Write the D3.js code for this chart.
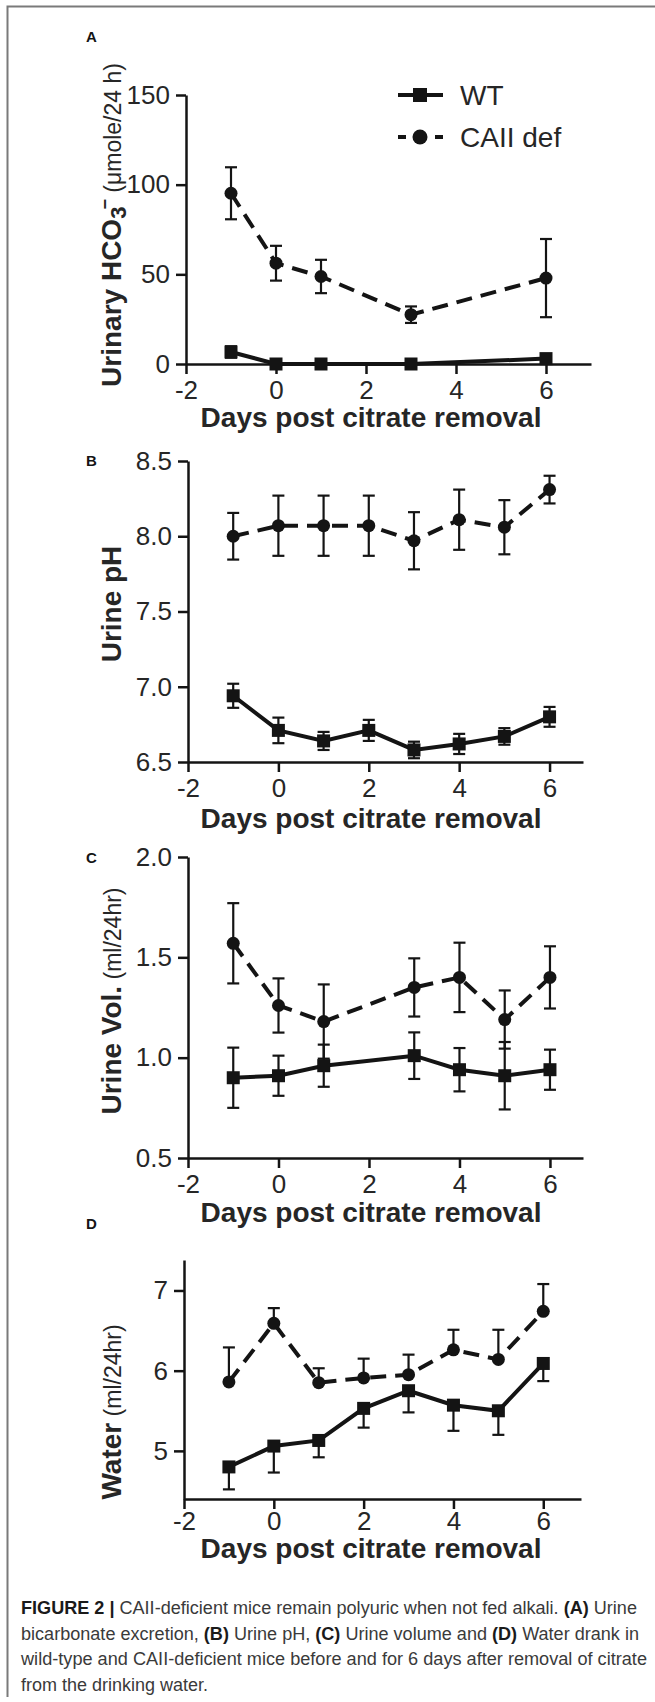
<!DOCTYPE html>
<html>
<head>
<meta charset="utf-8">
<script src="https://cdn.jsdelivr.net/npm/d3@7"></script>
<style>
  body { margin: 0; background: #fff; }
  svg text { font-family: "Liberation Sans", Arial, Helvetica, sans-serif; }
</style>
</head>
<body>
<div id="fig"></div>
<script>
// x ticks shared by all panels
const dayTicks = [-2, 0, 2, 4, 6];

// A - urinary bicarbonate (umole/24 h)
const hco3Days = [-1, 0, 1, 3, 6];
const hco3Ticks = [0, 50, 100, 150];
const hco3WT = [6.7, 0, 0, 0, 3.0];
const hco3WTErr = [3.2, 0.5, 0.5, 0.5, 1.5];
const hco3CA = [95.2, 56.2, 48.8, 27.5, 47.9];
const hco3CAErr = [14.5, 9.7, 9.3, 4.6, 21.8];

// B - urine pH
const phDays = [-1, 0, 1, 2, 3, 4, 5, 6];
const phTicks = [6.5, 7.0, 7.5, 8.0, 8.5];
const phWT = [6.94, 6.71, 6.64, 6.71, 6.58, 6.62, 6.67, 6.80];
const phWTErr = [0.08, 0.085, 0.06, 0.07, 0.055, 0.067, 0.055, 0.066];
const phCA = [8.00, 8.07, 8.07, 8.07, 7.97, 8.11, 8.06, 8.31];
const phCAErr = [0.155, 0.2, 0.2, 0.2, 0.19, 0.2, 0.18, 0.092];

// C - urine volume (ml/24hr)
const volDays = [-1, 0, 1, 3, 4, 5, 6];
const volTicks = [0.5, 1.0, 1.5, 2.0];
const volWT = [0.90, 0.91, 0.96, 1.01, 0.94, 0.91, 0.94];
const volWTErr = [0.15, 0.10, 0.105, 0.116, 0.108, 0.168, 0.10];
const volCA = [1.57, 1.26, 1.18, 1.35, 1.40, 1.19, 1.40];
const volCAErr = [0.20, 0.135, 0.185, 0.145, 0.173, 0.145, 0.155];

// D - water drank (ml/24hr), one sided bars
const waterDays = [-1, 0, 1, 2, 3, 4, 5, 6];
const waterTicks = [5, 6, 7];
const waterWT = [4.80, 5.06, 5.13, 5.53, 5.75, 5.57, 5.50, 6.09];
const waterWTErr = [0.28, 0.33, 0.21, 0.24, 0.27, 0.32, 0.30, 0.22];
const waterCA = [5.86, 6.59, 5.85, 5.91, 5.95, 6.26, 6.14, 6.74];
const waterCAErr = [0.43, 0.19, 0.18, 0.24, 0.25, 0.25, 0.37, 0.34];

const seriesNames = ["WT", "CAII def"];
const xTitle = "Days post citrate removal";

const captionLines = [
  [["FIGURE 2 |", true], [" CAII-deficient mice remain polyuric when not fed alkali. ", false], ["(A)", true], [" Urine", false]],
  [["bicarbonate excretion, ", false], ["(B)", true], [" Urine pH, ", false], ["(C)", true], [" Urine volume and ", false], ["(D)", true], [" Water drank in", false]],
  [["wild-type and CAII-deficient mice before and for 6 days after removal of citrate", false]],
  [["from the drinking water.", false]]
];

let svgWidth = 655;
let svgHeight = 1702;
let ink = "#141414";
let textCol = "#262626";

let svg = d3.select("#fig").append("svg")
  .attr("width", svgWidth)
  .attr("height", svgHeight);

// gray frame (top + left)
svg.append("path")
  .attr("d", "M7.5,1697 V6.5 H655")
  .attr("fill", "none")
  .attr("stroke", "#7a7a7a")
  .attr("stroke-width", 2);

let panels = [
  {
    letter: "A", letterY: 42, x0: 186, x1: 591, xMax: 7,
    yBottom: 364, yTop: 95, yDomain: [0, 150], yTicks: hco3Ticks, fmt: d3.format("d"),
    days: hco3Days, wt: hco3WT, wtErr: hco3WTErr, ca: hco3CA, caErr: hco3CAErr, oneSided: false,
    tickPad: 6.5, titleY: 427, labelY: 225,
    yTitle: [
      { t: "Urinary HCO", b: true, s: 28 },
      { t: "3", b: true, s: 22, dy: 5 },
      { t: "\u2212", b: true, s: 18, dy: -15, dx: -3 },
      { t: " (\u03bcmole/24 h)", b: false, s: 23, dy: 10 }
    ]
  },
  {
    letter: "B", letterY: 466, x0: 188, x1: 583, xMax: 6.74,
    yBottom: 762, yTop: 461, yDomain: [6.5, 8.5], yTicks: phTicks, fmt: d3.format(".1f"),
    days: phDays, wt: phWT, wtErr: phWTErr, ca: phCA, caErr: phCAErr, oneSided: false,
    tickPad: 6.5, titleY: 828, labelY: 604,
    yTitle: [{ t: "Urine pH", b: true, s: 28 }]
  },
  {
    letter: "C", letterY: 863, x0: 188, x1: 583, xMax: 6.73,
    yBottom: 1158, yTop: 857, yDomain: [0.5, 2.0], yTicks: volTicks, fmt: d3.format(".1f"),
    days: volDays, wt: volWT, wtErr: volWTErr, ca: volCA, caErr: volCAErr, oneSided: false,
    tickPad: 6.5, titleY: 1222, labelY: 1001,
    yTitle: [{ t: "Urine Vol.", b: true, s: 28 }, { t: " (ml/24hr)", b: false, s: 23 }]
  },
  {
    letter: "D", letterY: 1229, x0: 184, x1: 581, xMax: 6.84,
    yBottom: 1499, yTop: 1260, yDomain: [4.4, 7.38], yTicks: waterTicks, fmt: d3.format("d"),
    days: waterDays, wt: waterWT, wtErr: waterWTErr, ca: waterCA, caErr: waterCAErr, oneSided: true,
    tickPad: 2.5, titleY: 1558, labelY: 1412,
    yTitle: [{ t: "Water", b: true, s: 28 }, { t: " (ml/24hr)", b: false, s: 23 }]
  }
];

let drawPanel = (p) => {
  let g = svg.append("g");

  let xScale = d3.scaleLinear().domain([-2, p.xMax]).range([p.x0, p.x1]);
  let yScale = d3.scaleLinear().domain(p.yDomain).range([p.yBottom, p.yTop]);

  // panel letter
  g.append("text")
    .text(p.letter)
    .attr("x", 86)
    .attr("y", p.letterY)
    .attr("font-size", 15)
    .attr("font-weight", "bold")
    .attr("fill", ink);

  let xAxis = d3.axisBottom(xScale)
    .tickValues(dayTicks)
    .tickFormat((d) => String(d))
    .tickSize(10)
    .tickSizeOuter(0)
    .tickPadding(p.tickPad);

  let yAxis = d3.axisLeft(yScale)
    .tickValues(p.yTicks)
    .tickFormat(p.fmt)
    .tickSize(10)
    .tickSizeOuter(0)
    .tickPadding(6);

  let gx = g.append("g")
    .attr("transform", "translate(0," + p.yBottom + ")")
    .call(xAxis);
  let gy = g.append("g")
    .attr("transform", "translate(" + xScale(-2) + ",0)")
    .call(yAxis);

  [gx, gy].forEach((a) => {
    a.attr("font-size", 26).attr("font-family", null);
    a.selectAll("path, line").attr("stroke", ink).attr("stroke-width", 2.5);
    a.selectAll("text").attr("fill", textCol);
  });

  // x title
  g.append("text")
    .text(xTitle)
    .attr("x", 371)
    .attr("y", p.titleY)
    .attr("text-anchor", "middle")
    .attr("font-size", 28)
    .attr("font-weight", "bold")
    .attr("fill", textCol);

  // y title, rotated
  let yt = g.append("text")
    .attr("transform", "translate(121," + p.labelY + ") rotate(-90)")
    .attr("text-anchor", "middle")
    .attr("fill", textCol);
  p.yTitle.forEach((part) => {
    yt.append("tspan")
      .text(part.t)
      .attr("font-size", part.s)
      .attr("font-weight", part.b ? "bold" : "normal")
      .attr("dy", part.dy || 0)
      .attr("dx", part.dx || 0);
  });

  let wtData = p.days.map((d, i) => ({ day: d, v: p.wt[i], e: p.wtErr[i] }));
  let caData = p.days.map((d, i) => ({ day: d, v: p.ca[i], e: p.caErr[i] }));

  // error bars
  let drawErr = (data, up, down) => {
    let eb = g.append("g").attr("stroke", ink).attr("stroke-width", 2.2);
    data.forEach((d) => {
      let cx = xScale(d.day);
      let yHi = yScale(d.v + (up ? d.e : 0));
      let yLo = yScale(d.v - (down ? d.e : 0));
      eb.append("line").attr("x1", cx).attr("x2", cx).attr("y1", yHi).attr("y2", yLo);
      if (up) eb.append("line").attr("x1", cx - 6).attr("x2", cx + 6).attr("y1", yHi).attr("y2", yHi);
      if (down) eb.append("line").attr("x1", cx - 6).attr("x2", cx + 6).attr("y1", yLo).attr("y2", yLo);
    });
  };
  drawErr(caData, true, !p.oneSided);
  drawErr(wtData, !p.oneSided, true);

  let line = d3.line()
    .x((d) => xScale(d.day))
    .y((d) => yScale(d.v));

  g.append("path")
    .attr("d", line(caData))
    .attr("fill", "none")
    .attr("stroke", ink)
    .attr("stroke-width", 4)
    .attr("stroke-dasharray", "16,9");

  g.append("path")
    .attr("d", line(wtData))
    .attr("fill", "none")
    .attr("stroke", ink)
    .attr("stroke-width", 4);

  g.selectAll("circle.ca")
    .data(caData)
    .enter()
    .append("circle")
    .attr("cx", (d) => xScale(d.day))
    .attr("cy", (d) => yScale(d.v))
    .attr("r", 6.5)
    .attr("fill", ink);

  g.selectAll("rect.wt")
    .data(wtData)
    .enter()
    .append("rect")
    .attr("x", (d) => xScale(d.day) - 6.5)
    .attr("y", (d) => yScale(d.v) - 6.5)
    .attr("width", 13)
    .attr("height", 13)
    .attr("fill", ink);
};

panels.forEach(drawPanel);

// legend (panel A)
let legend = svg.append("g");
let legY = [95, 137];
seriesNames.forEach((name, i) => {
  let y = legY[i];
  legend.append("line")
    .attr("x1", 398).attr("x2", 443)
    .attr("y1", y).attr("y2", y)
    .attr("stroke", ink)
    .attr("stroke-width", 4)
    .attr("stroke-dasharray", i === 0 ? null : "8,29");
  if (i === 0) {
    legend.append("rect")
      .attr("x", 413).attr("y", y - 7)
      .attr("width", 14).attr("height", 14)
      .attr("fill", ink);
  } else {
    legend.append("circle")
      .attr("cx", 420).attr("cy", y)
      .attr("r", 7.5)
      .attr("fill", ink);
  }
  legend.append("text")
    .text(name)
    .attr("x", 460)
    .attr("y", y + 10)
    .attr("font-size", 28)
    .attr("fill", textCol);
});

// caption
let capWidths = [616, 618, 626, 187];
captionLines.forEach((parts, i) => {
  let t = svg.append("text")
    .attr("x", 21)
    .attr("y", 1614 + i * 25.5)
    .attr("font-size", 17.5)
    .attr("fill", "#333")
    .attr("textLength", capWidths[i])
    .attr("lengthAdjust", "spacingAndGlyphs");
  parts.forEach((p) => {
    t.append("tspan")
      .text(p[0])
      .attr("font-weight", p[1] ? "bold" : "normal")
      .attr("fill", p[1] ? "#1a1a1a" : "#3a3a3a");
  });
});
</script>
</body>
</html>
